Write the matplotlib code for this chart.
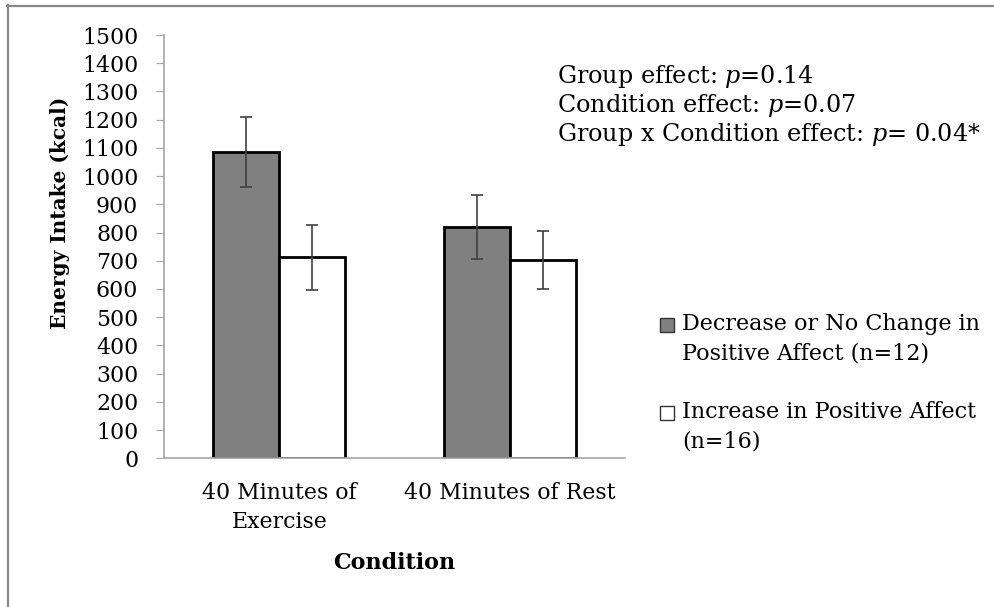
import matplotlib.pyplot as plt
from matplotlib.lines import Line2D
from matplotlib.patches import Rectangle
import numpy as np

plt.rcParams['font.family'] = ['DejaVu Serif']
plt.rcParams['mathtext.fontset'] = 'dejavuserif'

conditions = ['40 Minutes of\nExercise', '40 Minutes of Rest']
groups = ['Decrease or No Change in\nPositive Affect (n=12)',
          'Increase in Positive Affect\n(n=16)']
group_colors = ['#808080', 'white']
decrease_means = [1085, 821]
decrease_err = [125, 113]
increase_means = [712, 703]
increase_err = [115, 104]
effects = ['Group effect: $\\mathit{p}$=0.14',
           'Condition effect: $\\mathit{p}$=0.07',
           'Group x Condition effect: $\\mathit{p}$= 0.04*']

W, H = 995, 607
fig = plt.figure(figsize=(W / 100, H / 100), dpi=100)
ax = fig.add_axes([164 / W, 1 - 458.3 / H, (625.5 - 164) / W, (458.3 - 35) / H])

x = np.arange(len(conditions))
bw = 0.286
err_kw = dict(ecolor='#404040', elinewidth=1.2, capsize=4.3, capthick=1.2)
ax.bar(x - bw / 2, decrease_means, bw, color=group_colors[0], edgecolor='black',
       linewidth=2, yerr=decrease_err, error_kw=err_kw)
ax.bar(x + bw / 2, increase_means, bw, color=group_colors[1], edgecolor='black',
       linewidth=2, yerr=increase_err, error_kw=err_kw)

ax.set_xlim(-0.5, 1.5)
ax.set_ylim(0, 1500)
ax.set_yticks(range(0, 1501, 100))
ax.set_xticks(x)
ax.set_xticklabels(conditions, fontsize=15.8, linespacing=1.4)
ax.tick_params(axis='x', length=0, pad=17)
ax.tick_params(axis='y', length=6, color='#a6a6a6', labelsize=15.8, pad=12.5)
for s in ['top', 'right']:
    ax.spines[s].set_visible(False)
for s in ['left', 'bottom']:
    ax.spines[s].set_color('#a6a6a6')
    ax.spines[s].set_linewidth(1.2)

fig.text(60 / W, 1 - 213 / H, 'Energy Intake (kcal)', rotation=90, fontsize=14.5,
         fontweight='bold', ha='center', va='center')
fig.text(394 / W, 1 - 563 / H, 'Condition', fontsize=16, fontweight='bold',
         ha='center', va='center')

for i, t in enumerate(effects):
    fig.text(557 / W, 1 - (77 + 28.5 * i) / H, t, fontsize=17.2, ha='left', va='center')

# legend: square aligned with the first line of each entry
for i, (lab, col) in enumerate(zip(groups, group_colors)):
    y0 = 325 + 88 * i
    fig.add_artist(Rectangle((660 / W, 1 - (y0 + 7) / H), 14 / W, 14 / H,
                             transform=fig.transFigure, facecolor=col,
                             edgecolor='#333333', linewidth=1))
    fig.text(682 / W, 1 - (y0 - 12) / H, lab, fontsize=16, ha='left', va='top',
             linespacing=1.45)

# chart area border (only top and left edges visible)
fig.add_artist(Line2D([7 / W, 1], [1 - 5.5 / H, 1 - 5.5 / H], color='#888888', lw=1.6))
fig.add_artist(Line2D([8 / W, 8 / W], [0, 1 - 5 / H], color='#888888', lw=1.6))

fig.savefig('out.png', dpi=100)
